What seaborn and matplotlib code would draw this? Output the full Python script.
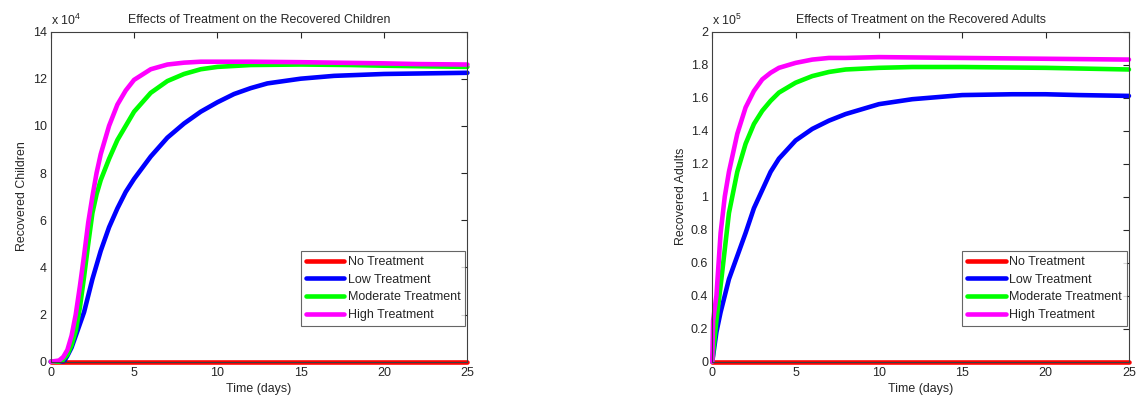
import numpy as np
import pandas as pd
import matplotlib
matplotlib.use("Agg")
import matplotlib.pyplot as plt
import seaborn as sns
from matplotlib.ticker import FuncFormatter

# ---------------- data ----------------
series_names = ["No Treatment", "Low Treatment", "Moderate Treatment", "High Treatment"]
series_colors = ["#ff0000", "#0000ff", "#00ff00", "#ff00ff"]

# Children (values in units of 1e4)
ch_none_t = [0, 5, 10, 15, 20, 25]
ch_none_y = [0, 0, 0, 0, 0, 0]
ch_low_t = [0, 0.5, 0.8, 1.0, 1.25, 1.5, 1.75, 2.0, 2.5, 3.0, 3.5, 4.0, 4.5, 5.0, 6.0, 7.0, 8.0, 9.0, 10.0, 11.0, 12.0, 13.0, 15.0, 17.0, 20.0, 22.0, 25.0]
ch_low_y = [0, 0, 0.02, 0.25, 0.6, 1.1, 1.6, 2.1, 3.5, 4.7, 5.7, 6.5, 7.2, 7.75, 8.7, 9.5, 10.1, 10.6, 11.0, 11.35, 11.6, 11.8, 12.0, 12.12, 12.2, 12.22, 12.25]
ch_mod_t = [0, 0.5, 0.7, 1.0, 1.25, 1.5, 1.75, 2.0, 2.25, 2.5, 2.75, 3.0, 3.5, 4.0, 4.5, 5.0, 6.0, 7.0, 8.0, 9.0, 10.0, 12.0, 15.0, 18.0, 20.0, 25.0]
ch_mod_y = [0, 0, 0.05, 0.3, 0.7, 1.3, 2.3, 3.6, 5.0, 6.3, 7.1, 7.7, 8.6, 9.4, 10.0, 10.6, 11.4, 11.9, 12.2, 12.4, 12.5, 12.58, 12.6, 12.58, 12.55, 12.5]
ch_high_t = [0, 0.5, 0.75, 1.0, 1.25, 1.5, 1.75, 2.0, 2.25, 2.5, 2.75, 3.0, 3.5, 4.0, 4.5, 5.0, 6.0, 7.0, 8.0, 9.0, 10.0, 12.0, 15.0, 18.0, 20.0, 22.0, 25.0]
ch_high_y = [0, 0.05, 0.2, 0.5, 1.1, 2.0, 3.2, 4.5, 5.9, 7.0, 8.0, 8.8, 10.0, 10.9, 11.5, 11.95, 12.4, 12.6, 12.68, 12.72, 12.72, 12.72, 12.7, 12.67, 12.65, 12.62, 12.6]

# Adults (values in units of 1e5)
ad_none_t = [0, 5, 10, 15, 20, 25]
ad_none_y = [0, 0, 0, 0, 0, 0]
ad_low_t = [0, 0.25, 0.5, 1.0, 1.5, 2.0, 2.5, 3.0, 3.5, 4.0, 5.0, 6.0, 7.0, 8.0, 10.0, 12.0, 15.0, 18.0, 20.0, 22.0, 25.0]
ad_low_y = [0, 0.18, 0.30, 0.50, 0.64, 0.78, 0.93, 1.04, 1.15, 1.23, 1.34, 1.41, 1.46, 1.50, 1.56, 1.59, 1.615, 1.62, 1.62, 1.615, 1.61]
ad_mod_t = [0, 0.25, 0.5, 1.0, 1.5, 2.0, 2.5, 3.0, 3.5, 4.0, 5.0, 6.0, 7.0, 8.0, 10.0, 12.0, 15.0, 20.0, 25.0]
ad_mod_y = [0, 0.25, 0.46, 0.90, 1.15, 1.32, 1.44, 1.52, 1.58, 1.63, 1.69, 1.73, 1.755, 1.77, 1.78, 1.785, 1.785, 1.78, 1.77]
ad_high_t = [0, 0.05, 0.25, 0.5, 0.75, 1.0, 1.5, 2.0, 2.5, 3.0, 3.5, 4.0, 5.0, 6.0, 7.0, 8.0, 10.0, 15.0, 20.0, 25.0]
ad_high_y = [0, 0.25, 0.40, 0.78, 1.0, 1.15, 1.38, 1.54, 1.64, 1.71, 1.75, 1.78, 1.81, 1.83, 1.84, 1.84, 1.845, 1.84, 1.835, 1.83]

x_ticks = [0, 5, 10, 15, 20, 25]
ch_y_ticks = [0, 2, 4, 6, 8, 10, 12, 14]
ad_y_ticks = [0, 0.2, 0.4, 0.6, 0.8, 1, 1.2, 1.4, 1.6, 1.8, 2]


def long_frame(ts, ys, scale):
    rows = []
    for name, t, y in zip(series_names, ts, ys):
        for a, b in zip(t, y):
            rows.append({"Time": a, "Value": b * scale, "Series": name})
    return pd.DataFrame(rows)


df_ch = long_frame([ch_none_t, ch_low_t, ch_mod_t, ch_high_t],
                   [ch_none_y, ch_low_y, ch_mod_y, ch_high_y], 1e4)
df_ad = long_frame([ad_none_t, ad_low_t, ad_mod_t, ad_high_t],
                   [ad_none_y, ad_low_y, ad_mod_y, ad_high_y], 1e5)

sns.set_style("white")
plt.rcParams["font.family"] = ["Liberation Sans", "DejaVu Sans"]
plt.rcParams["mathtext.fontset"] = "custom"
plt.rcParams["mathtext.rm"] = "Liberation Sans"

fig = plt.figure(figsize=(11.4, 3.99), dpi=100)
ax1 = fig.add_axes([0.0445, 0.0935, 0.3655, 0.8275])
ax2 = fig.add_axes([0.6248, 0.0935, 0.3655, 0.8275])

palette = dict(zip(series_names, series_colors))


def draw(ax, df, scale, yticks, ymax, title, ylabel, exp):
    sns.lineplot(data=df, x="Time", y="Value", hue="Series", hue_order=series_names,
                 palette=palette, linewidth=3.3, ax=ax, sort=False, estimator=None,
                 legend=True)
    for ln in ax.get_lines():
        ln.set_clip_on(False)
    ax.set_xlim(0, 25)
    ax.set_ylim(0, ymax)
    ax.set_xticks(x_ticks)
    ax.set_yticks([v * scale for v in yticks])
    ax.yaxis.set_major_formatter(FuncFormatter(lambda v, p: "%g" % round(v / scale, 6)))
    ax.tick_params(direction="in", length=4, width=0.8, top=True, right=True,
                   labelsize=9, colors="#262626", pad=3)
    ax.tick_params(axis="x", pad=4)
    for s in ax.spines.values():
        s.set_visible(True)
        s.set_color("#404040")
        s.set_linewidth(0.8)
    ax.set_title(title, fontsize=8.9, color="#262626", pad=6)
    ax.set_xlabel("Time (days)", fontsize=8.9, color="#262626", labelpad=3)
    ax.set_ylabel(ylabel, fontsize=8.9, color="#262626", labelpad=3)
    ax.text(0.0, 1.012, "x 10$^{%d}$" % exp, transform=ax.transAxes, fontsize=8.9,
            color="#262626", ha="left", va="bottom")
    leg = ax.legend(loc="lower right", bbox_to_anchor=(0.995, 0.108), fontsize=9,
                    frameon=True, fancybox=False, handlelength=3.1, handletextpad=0.25,
                    borderpad=0.4, labelspacing=0.45, borderaxespad=0.0)
    leg.get_frame().set_edgecolor("#404040")
    leg.get_frame().set_linewidth(0.8)
    for h in leg.get_lines():
        h.set_linewidth(3.3)


draw(ax1, df_ch, 1e4, ch_y_ticks, 14e4,
     "Effects of Treatment on the Recovered Children", "Recovered Children", 4)
draw(ax2, df_ad, 1e5, ad_y_ticks, 2e5,
     "Effects of Treatment on the Recovered Adults", "Recovered Adults", 5)

fig.savefig("out.png", dpi=100)
